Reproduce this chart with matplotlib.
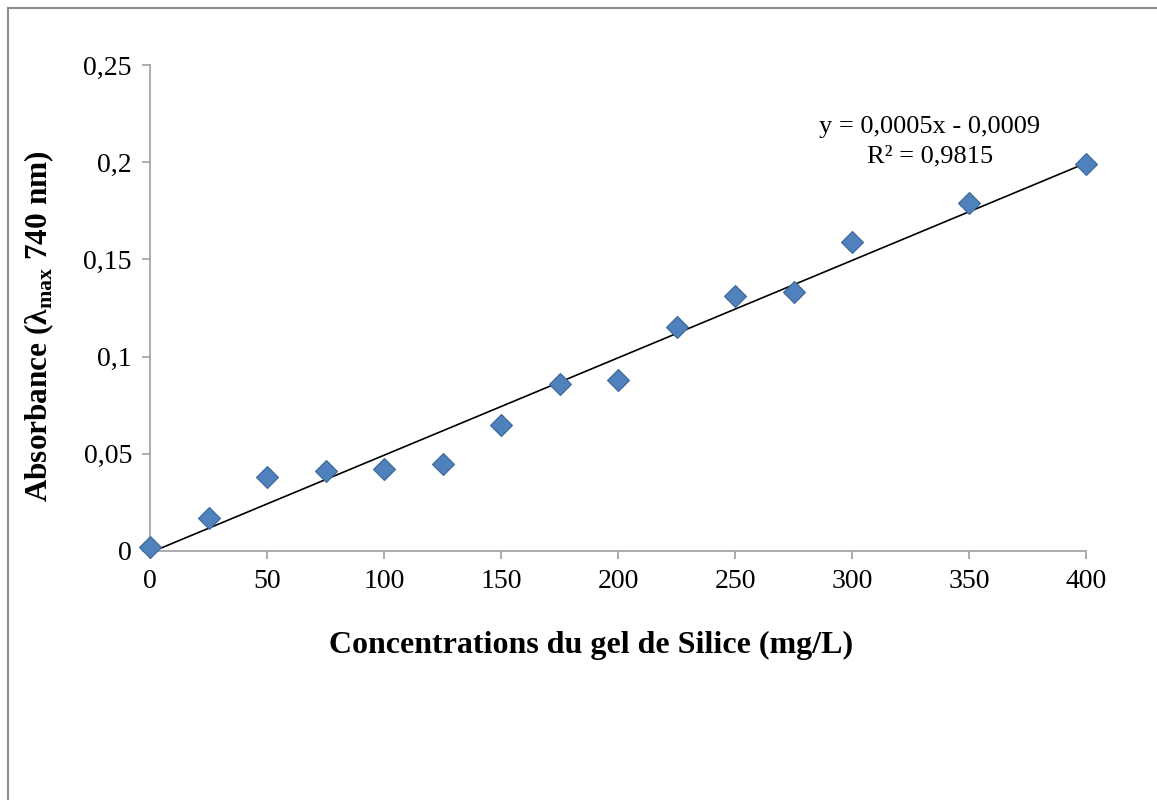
import matplotlib.pyplot as plt
import numpy as np

plt.rcParams['font.family'] = ['Liberation Serif', 'DejaVu Serif']
plt.rcParams['mathtext.fontset'] = 'custom'
plt.rcParams['mathtext.rm'] = 'Liberation Serif'
plt.rcParams['mathtext.bf'] = 'Liberation Serif:bold'

concentration = [0, 25, 50, 75, 100, 125, 150, 175, 200, 225, 250, 275, 300, 350, 400]
absorbance = [0.002, 0.017, 0.038, 0.041, 0.042, 0.045, 0.065, 0.086, 0.088,
              0.115, 0.131, 0.133, 0.159, 0.179, 0.199]

x_ticks = [0, 50, 100, 150, 200, 250, 300, 350, 400]
y_ticks = [0, 0.05, 0.1, 0.15, 0.2, 0.25]
y_labels = ["0", "0,05", "0,1", "0,15", "0,2", "0,25"]

fig = plt.figure(figsize=(11.57, 8), dpi=100)
ax = fig.add_axes([150 / 1157, 1 - 551 / 800, (1086 - 150) / 1157, (551 - 65) / 800])

# border of the chart area (left and top only visible)
fig.add_artist(plt.Line2D([8 / 1157, 8 / 1157], [0, 1 - 8 / 800], color="#8c8c8c", lw=1.5))
fig.add_artist(plt.Line2D([8 / 1157, 1], [1 - 8 / 800, 1 - 8 / 800], color="#8c8c8c", lw=1.5))

x = np.array(concentration)
y = np.array(absorbance)
slope, intercept = np.polyfit(x, y, 1)
xs = np.array([0, 400])
ax.plot(xs, slope * xs + intercept, color="black", lw=1.2, zorder=2)

ax.plot(x, y, linestyle="none", marker="D", ms=11, color="#4f81bd",
        markeredgecolor="#3b6699", markeredgewidth=0.8, clip_on=False, zorder=3)

ax.set_xlim(0, 400)
ax.set_ylim(0, 0.25)
ax.set_xticks(x_ticks)
ax.set_xticklabels([str(t) for t in x_ticks])
ax.set_yticks(y_ticks)
ax.set_yticklabels(y_labels)

for side in ["top", "right"]:
    ax.spines[side].set_visible(False)
for side in ["left", "bottom"]:
    ax.spines[side].set_color("#a6a6a6")
    ax.spines[side].set_linewidth(1.3)

ax.tick_params(axis="both", direction="out", length=6, width=1.3, color="#a6a6a6",
               labelsize=20, pad=7)

ax.text(930 / 1157, 1 - 127 / 800, "y = 0,0005x - 0,0009", transform=fig.transFigure,
        ha="center", va="center", fontsize=19)
ax.text(930 / 1157, 1 - 156 / 800, "R² = 0,9815", transform=fig.transFigure,
        ha="center", va="center", fontsize=19)

fig.text(591 / 1157, 1 - 645 / 800, "Concentrations du gel de Silice (mg/L)",
         ha="center", va="center", fontsize=23, fontweight="bold")
fig.text(39 / 1157, 1 - 326 / 800, r"Absorbance (λ$_{\mathbf{max}}$ 740 nm)",
         ha="center", va="center", rotation=90, fontsize=22.5, fontweight="bold")

fig.savefig("out.png", dpi=100)
plt.close()
